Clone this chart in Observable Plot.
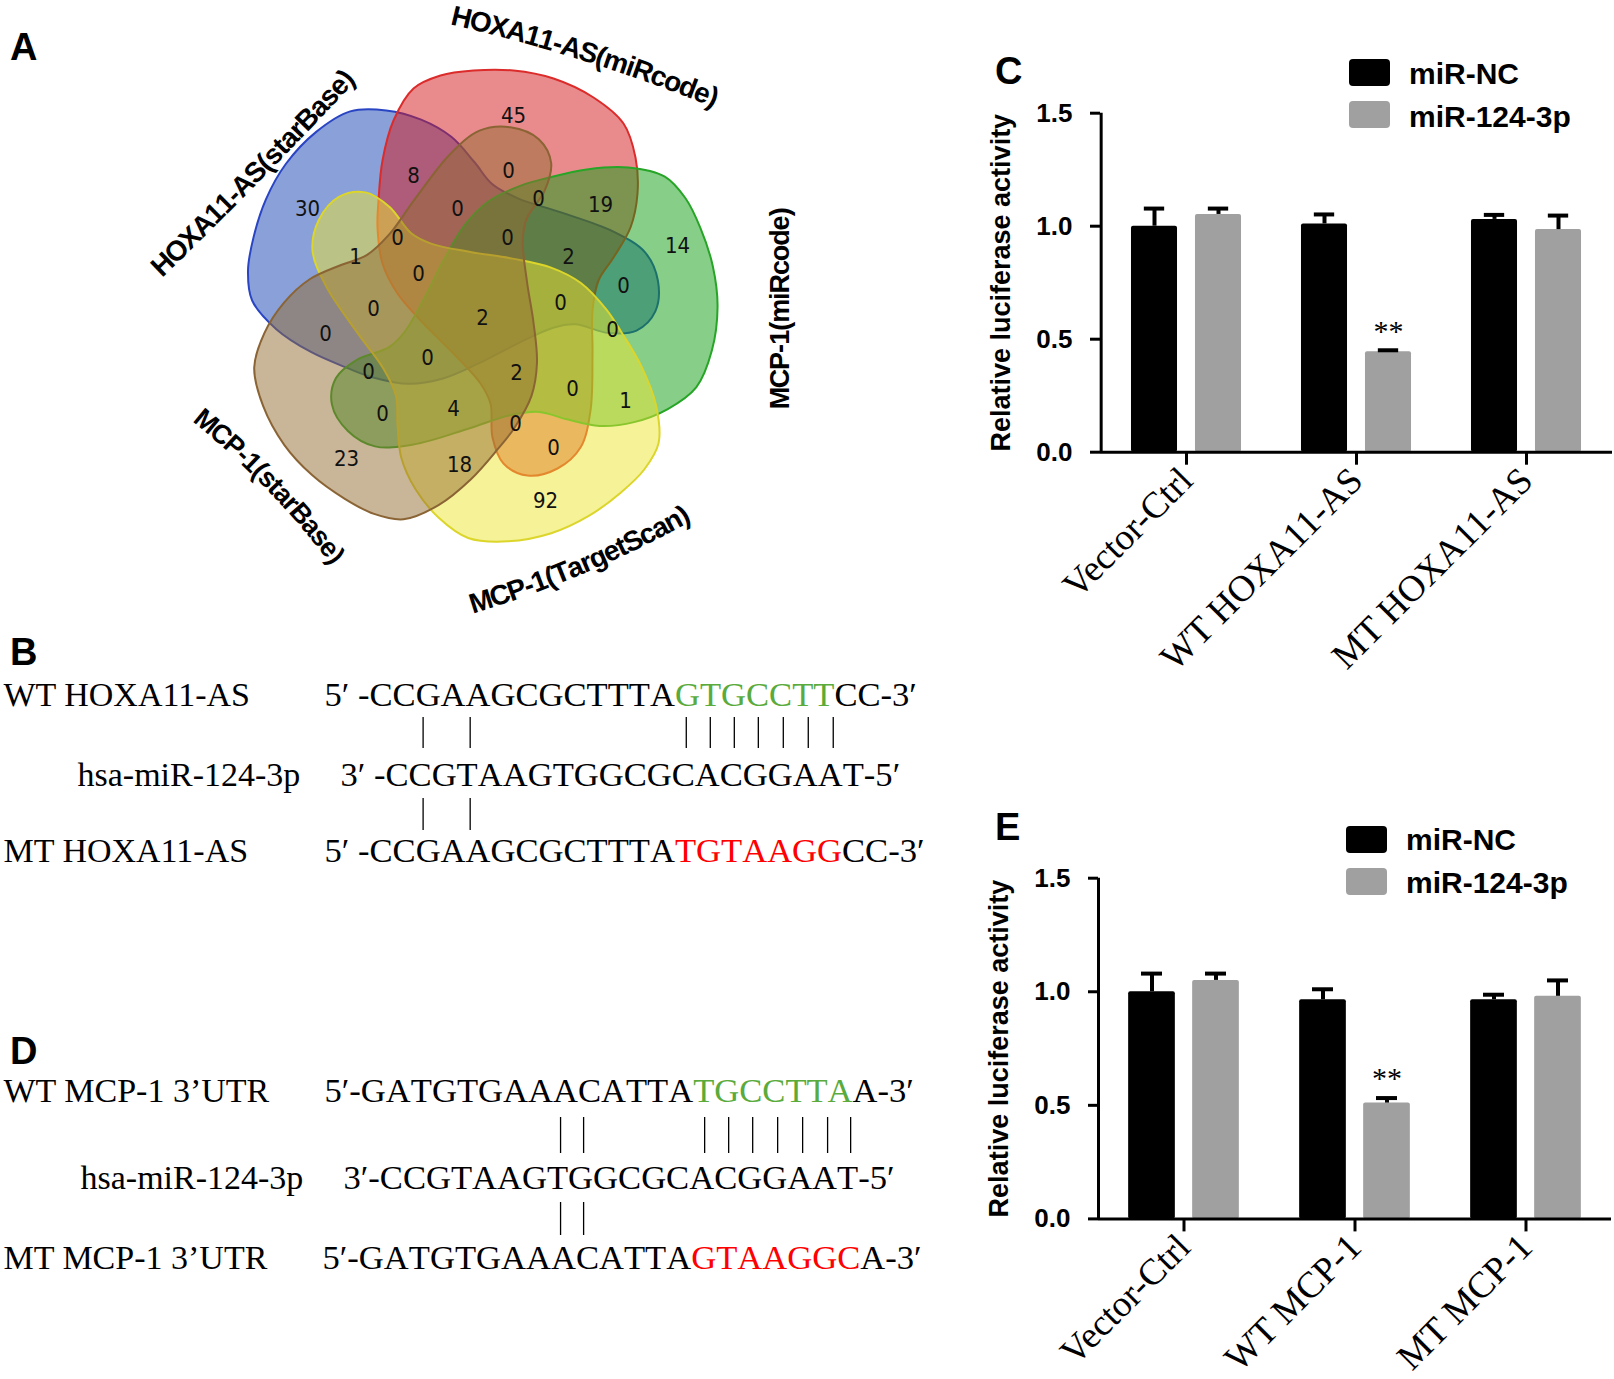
<!DOCTYPE html>
<html><head><meta charset="utf-8">
<script src="https://cdn.jsdelivr.net/npm/d3@7"></script>
<script src="https://cdn.jsdelivr.net/npm/@observablehq/plot@0.6"></script>
<style>
body{margin:0;background:#fff;}
#fig{position:relative;width:1614px;height:1379px;overflow:hidden;background:#fff;font-family:"Liberation Sans",Arial,sans-serif;}
.letter{position:absolute;font-weight:bold;font-size:38px;line-height:1;color:#000;}
.legbox{position:absolute;width:41px;height:27px;border-radius:4px;}
.legtxt{position:absolute;font-weight:bold;font-size:30px;line-height:1;color:#000;white-space:nowrap;}
</style></head><body><div id="fig"></div>
<script>
// ================= DATA =================
// Panel A: five-set Venn diagram
const vennSetNames = ["HOXA11-AS(starBase)", "HOXA11-AS(miRcode)", "MCP-1(miRcode)", "MCP-1(TargetScan)", "MCP-1(starBase)"];
const vennRegionCounts = [45, 8, 0, 30, 0, 0, 19, 14, 1, 0, 0, 2, 0, 0, 0, 0, 2, 0, 0, 0, 0, 2, 0, 1, 0, 4, 0, 0, 23, 18, 92];

// Panels C and E: luciferase assays
const seriesNames = ["miR-NC", "miR-124-3p"];
const groupsC = ["Vector-Ctrl", "WT HOXA11-AS", "MT HOXA11-AS"];
const ncC = [1.00, 1.01, 1.03];
const ncErrC = [0.078, 0.042, 0.02];
const mirC = [1.052, 0.445, 0.985];
const mirErrC = [0.026, 0.006, 0.062];
const starsC = ["", "**", ""];

const groupsE = ["Vector-Ctrl", "WT MCP-1", "MT MCP-1"];
const ncE = [1.00, 0.965, 0.965];
const ncErrE = [0.08, 0.046, 0.022];
const mirE = [1.05, 0.51, 0.98];
const mirErrE = [0.03, 0.022, 0.07];
const starsE = ["", "**", ""];

const yTicks = [0, 0.5, 1.0, 1.5];
const yLabel = "Relative luciferase activity";

// Panels B and D: sequences
const mirName = "hsa-miR-124-3p";
const mirSeq = "CCGTAAGTGGCGCACGGAAT";
const hoxWTName = "WT HOXA11-AS", hoxWTSeq = "CCGAAGCGCTTTAGTGCCTTCC";
const hoxMTName = "MT HOXA11-AS", hoxMTSeq = "CCGAAGCGCTTTATGTAAGGCC";
const hoxSite = [13, 20];
const hoxPairsTop = [1, 3, 12, 13, 14, 15, 16, 17, 18];
const hoxPairsBottom = [1, 3];
const mcpWTName = "WT MCP-1 3\u2019UTR", mcpWTSeq = "GATGTGAAACATTATGCCTTAA";
const mcpMTName = "MT MCP-1 3\u2019UTR", mcpMTSeq = "GATGTGAAACATTAGTAAGGCA";
const mcpSite = [14, 21];
const mcpPairsTop = [7, 8, 13, 14, 15, 16, 17, 18, 19];
const mcpPairsBottom = [7, 8];

// ================= LAYOUT / STYLE =================
const SANS = '"Liberation Sans", Arial, sans-serif';
const SERIF = '"Liberation Serif", "Times New Roman", serif';
const NARROW = '"Liberation Sans Narrow", "DejaVu Sans Condensed", "Arial Narrow", sans-serif';
const fig = document.getElementById("fig");
const ctx = document.createElement("canvas").getContext("2d");
function measure(str, font) { ctx.font = font; return ctx.measureText(str).width; }
function place(node, left, top) { node.style.position = "absolute"; node.style.left = left + "px"; node.style.top = top + "px"; fig.appendChild(node); return node; }

// Venn geometry: one petal outline (relative to centre), rotated for each set
const VC = [478, 305];
const vennOutline = [[-100,-105],[-96,-145],[-85,-185],[-65,-217],[-38,-230],[-5,-235],[35,-235],[75,-227],[115,-208],[145,-182],[157,-148],[159,-112],[152,-78],[135,-48],[120,-25],[114,5],[114,48],[112,105],[102,142],[79,163],[49,170],[25,158],[14,132],[12,98],[2,78],[-25,48],[-55,18],[-81,-12],[-96,-42],[-101,-78]];
const vennRot = [288, 0, 72, 144, 216];
const vennFill = ["#1341b1", "#d31719", "#0f9d13", "#ebe531", "#936b31"];
const vennStroke = ["#2a45c4", "#dc2b2b", "#26a526", "#dcd52a", "#8a6434"];
const vennRegionPos = [[513,115],[413,175],[508,170],[307,208],[457,208],[538,198],[600,204],[677,245],[355,256],[397,237],[507,237],[568,256],[418,273],[623,285],[373,308],[560,302],[482,317],[325,333],[612,329],[427,357],[368,371],[516,372],[572,388],[625,400],[382,413],[453,408],[515,423],[553,447],[346,458],[459,464],[545,500]];
// set-label baselines: start x, start y, start angle, end angle, font size, letter-advance factor
const vennLabelArcs = [[162,277,-44,-47,28,0.93],[450,24,13,22,28,0.93],[788,408,-90,-90,27,0.93],[473,613,-17,-29,28,0.92],[192,421,39,53,27,0.93]];

function arcText(label, x0, y0, a0, a1, size, k) {
  const font = `bold ${size}px "Liberation Sans"`;
  const chars = Array.from(label);
  const ws = chars.map(c => measure(c, font) * k);
  const total = d3.sum(ws);
  const ang = s => (a0 + (a1 - a0) * s / total) * Math.PI / 180;
  let x = x0, y = y0, s = 0;
  return chars.map((c, i) => {
    const w = ws[i];
    let a = ang(s + w / 4);
    const cx = x + w / 2 * Math.cos(a), cy = y + w / 2 * Math.sin(a);
    const r = ang(s + w / 2) * 180 / Math.PI;
    a = ang(s + 3 * w / 4);
    x = cx + w / 2 * Math.cos(a); y = cy + w / 2 * Math.sin(a);
    s += w;
    return {c, x: cx, y: cy, r};
  });
}

// ---------- Panel A ----------
{
  const blobs = vennSetNames.map((name, i) => {
    const p = vennRot[i] * Math.PI / 180;
    return vennOutline.map(([dx, dy]) => ({set: name, x: VC[0] + dx * Math.cos(p) - dy * Math.sin(p), y: VC[1] + dx * Math.sin(p) + dy * Math.cos(p)}));
  });
  const regions = vennRegionCounts.map((n, i) => ({n, x: vennRegionPos[i][0], y: vennRegionPos[i][1]}));
  const venn = Plot.plot({
    width: 800, height: 620, margin: 0,
    x: {domain: [0, 800], range: [0, 800], axis: null},
    y: {domain: [0, 620], range: [0, 620], axis: null},
    style: {fontFamily: SANS, background: "transparent", overflow: "visible"},
    marks: [
      ...blobs.map((pts, i) => Plot.line(pts, {x: "x", y: "y", curve: "catmull-rom-closed", fill: vennFill[i], fillOpacity: 0.5, stroke: vennStroke[i], strokeWidth: 2})),
      Plot.text(regions, {x: "x", y: "y", text: d => String(d.n), fontSize: 22, fontFamily: NARROW, fill: "#111"}),
      ...vennSetNames.map((name, i) => {
        const [x0, y0, a0, a1, size, k] = vennLabelArcs[i];
        return Plot.text(arcText(name, x0, y0, a0, a1, size, k), {x: "x", y: "y", text: "c", rotate: "r", textAnchor: "middle", lineAnchor: "bottom", fontSize: size, fontWeight: "bold", fontFamily: SANS, fill: "#000"});
      })
    ]
  });
  place(venn, 0, 0);
}

// ---------- Panels C and E ----------
function barPanel(groups, nc, ncErr, mir, mirErr, stars, L) {
  const rows = groups.map((g, i) => ({group: g, nc: nc[i], ncErr: ncErr[i], mir: mir[i], mirErr: mirErr[i], star: stars[i]}));
  const step = (L.width - L.mL - L.mR) / groups.length, half = step / 2;
  const bw = 46.7, off = 32, cap = 21;
  const ins = c => ({insetLeft: half + c - bw / 2, insetRight: half - c - bw / 2});
  const capIns = c => ({insetLeft: half + c - cap / 2, insetRight: half - c - cap / 2});
  return Plot.plot({
    width: L.width, height: L.height,
    marginLeft: L.mL, marginRight: L.mR, marginTop: L.mT, marginBottom: L.mB,
    x: {domain: groups, padding: 0},
    y: {domain: [0, 1.5]},
    style: {fontFamily: SANS, background: "transparent", overflow: "visible", color: "#000"},
    marks: [
      Plot.barY(rows, {x: "group", y: "nc", fill: "#000", rx: 2, ...ins(-off)}),
      Plot.barY(rows, {x: "group", y: "mir", fill: "#a0a0a0", rx: 2, ...ins(off)}),
      Plot.ruleX(rows, {x: "group", y1: "nc", y2: d => d.nc + d.ncErr, dx: -off, strokeWidth: 4}),
      Plot.ruleX(rows, {x: "group", y1: "mir", y2: d => d.mir + d.mirErr, dx: off, strokeWidth: 4}),
      Plot.tickY(rows, {x: "group", y: d => d.nc + d.ncErr, strokeWidth: 4, ...capIns(-off)}),
      Plot.tickY(rows, {x: "group", y: d => d.mir + d.mirErr, strokeWidth: 4, ...capIns(off)}),
      Plot.text(rows.filter(d => d.star), {x: "group", y: d => d.mir + d.mirErr + 0.085, text: "star", dx: off, fontSize: 30, fontFamily: SERIF}),
      Plot.ruleY([0], {strokeWidth: 3}),
      Plot.ruleX([groups[0]], {y1: 0, y2: 1.5, dx: -half, strokeWidth: 3}),
      Plot.axisY({ticks: yTicks, tickFormat: d3.format(".1f"), tickSize: 10, tickPadding: 18, fontSize: 26, fontWeight: "bold", strokeWidth: 3, label: null}),
      Plot.axisX({tickSize: 13, tickPadding: 9, tickRotate: -45, fontSize: 37, fontFamily: SERIF, strokeWidth: 3, label: null}),
      Plot.text([yLabel], {frameAnchor: "left", textAnchor: "middle", rotate: -90, dx: -99, fontSize: 27, fontWeight: "bold"})
    ]
  });
}
place(barPanel(groupsC, ncC, ncErrC, mirC, mirErrC, starsC, {width: 654, height: 600, mL: 140, mR: 2, mT: 12.7, mB: 248.3}), 960, 100);
place(barPanel(groupsE, ncE, ncErrE, mirE, mirErrE, starsE, {width: 656, height: 514, mL: 140, mR: 3, mT: 12.7, mB: 160.6}), 958, 865.3);

// legends
function legend(left, boxTop, gap, textLeft, textTop) {
  const colors = ["#000", "#a0a0a0"];
  seriesNames.forEach((s, i) => {
    const b = document.createElement("div"); b.className = "legbox"; b.style.background = colors[i];
    place(b, left, boxTop + i * gap);
    const t = document.createElement("div"); t.className = "legtxt"; t.textContent = s;
    place(t, textLeft, textTop + i * gap);
  });
}
legend(1349, 58.5, 42.5, 1409, 59);
legend(1346, 825.5, 42.5, 1406, 825);

// ---------- Panels B and D ----------
{
  const green = "#5aab3c", red = "#ff0000";
  const rowsLayout = [
    {name: hoxWTName, nameX: 3, seqX: 324, y: 705, prefix: "5\u2032 -", seq: hoxWTSeq, suffix: "-3\u2032", site: hoxSite, siteColor: green},
    {name: mirName, nameX: 77, seqX: 340, y: 785, prefix: "3\u2032 -", seq: mirSeq, suffix: "-5\u2032", pairs: [[hoxPairsTop, 717, 748], [hoxPairsBottom, 798, 830]]},
    {name: hoxMTName, nameX: 3, seqX: 324, y: 861.5, prefix: "5\u2032 -", seq: hoxMTSeq, suffix: "-3\u2032", site: hoxSite, siteColor: red},
    {name: mcpWTName, nameX: 3, seqX: 324, y: 1101, prefix: "5\u2032-", seq: mcpWTSeq, suffix: "-3\u2032", site: mcpSite, siteColor: green},
    {name: mirName, nameX: 80, seqX: 343, y: 1188, prefix: "3\u2032-", seq: mirSeq, suffix: "-5\u2032", pairs: [[mcpPairsTop, 1117, 1153], [mcpPairsBottom, 1202, 1235]]},
    {name: mcpMTName, nameX: 3, seqX: 322, y: 1268, prefix: "5\u2032-", seq: mcpMTSeq, suffix: "-3\u2032", site: mcpSite, siteColor: red}
  ];
  const FS = 34.6;
  const font = `${FS}px "Liberation Serif"`;
  const chars = [], lines = [];
  rowsLayout.forEach(r => {
    let x = r.seqX + measure(r.prefix, font);
    const centers = [];
    Array.from(r.seq).forEach((c, i) => {
      const w = measure(c, font);
      const inSite = r.site && i >= r.site[0] && i < r.site[1];
      chars.push({c, x: x + w / 2, y: r.y, color: inSite ? r.siteColor : "#000"});
      centers.push(x + w / 2);
      x += w;
    });
    r.suffixX = x;
    if (r.pairs) r.pairs.forEach(([idx, y1, y2]) => idx.forEach(k => lines.push({x: centers[k] + 3, y1, y2})));
  });
  const common = {lineAnchor: "bottom", fontSize: FS, fontFamily: SERIF};
  const seqPlot = Plot.plot({
    width: 940, height: 779, margin: 0,
    x: {domain: [0, 940], range: [0, 940], axis: null},
    y: {domain: [600, 1379], range: [0, 779], axis: null},
    style: {fontFamily: SERIF, background: "transparent", overflow: "visible"},
    marks: [
      Plot.text(rowsLayout, {x: "nameX", y: "y", text: "name", textAnchor: "start", fill: "#000", ...common, fontSize: 34}),
      Plot.text(rowsLayout, {x: "seqX", y: "y", text: "prefix", textAnchor: "start", fill: "#000", ...common}),
      Plot.text(rowsLayout, {x: "suffixX", y: "y", text: "suffix", textAnchor: "start", fill: "#000", ...common}),
      Plot.text(chars.filter(d => d.color === "#000"), {x: "x", y: "y", text: "c", textAnchor: "middle", fill: "#000", ...common}),
      Plot.text(chars.filter(d => d.color === green), {x: "x", y: "y", text: "c", textAnchor: "middle", fill: green, ...common}),
      Plot.text(chars.filter(d => d.color === red), {x: "x", y: "y", text: "c", textAnchor: "middle", fill: red, ...common}),
      Plot.ruleX(lines, {x: "x", y1: "y1", y2: "y2", stroke: "#000", strokeWidth: 1.3})
    ]
  });
  place(seqPlot, 0, 600);
}

// panel letters
[["A", 10, 28], ["B", 10, 633], ["C", 995, 52], ["D", 10, 1032], ["E", 995, 808]].forEach(([t, l, tp]) => {
  const d = document.createElement("div"); d.className = "letter"; d.textContent = t; place(d, l, tp);
});
</script></body></html>
